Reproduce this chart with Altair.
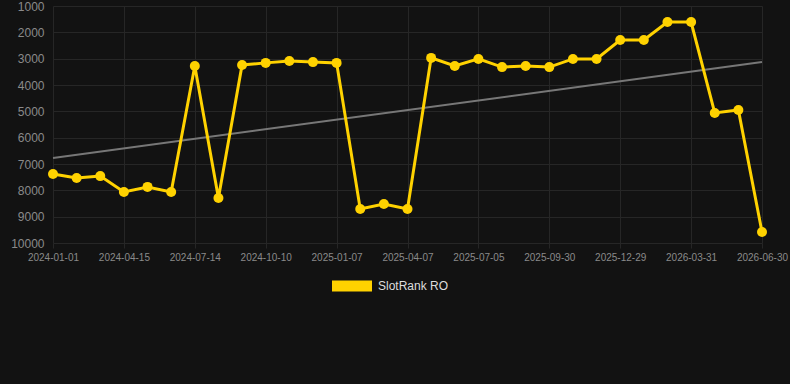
import altair as alt
import pandas as pd

dates = [
    "2024-01-01", "2024-02-05", "2024-03-11", "2024-04-15", "2024-05-15", "2024-06-14",
    "2024-07-14", "2024-08-12", "2024-09-11", "2024-10-10", "2024-11-09", "2024-12-09",
    "2025-01-07", "2025-02-06", "2025-03-08", "2025-04-07", "2025-05-07", "2025-06-05",
    "2025-07-05", "2025-08-03", "2025-09-01", "2025-09-30", "2025-10-30", "2025-11-29",
    "2025-12-29", "2026-01-29", "2026-02-28", "2026-03-31", "2026-04-30", "2026-05-31",
    "2026-06-30",
]
ranks = [
    7380, 7530, 7460, 8060, 7870, 8060,
    3280, 8290, 3240, 3160, 3090, 3130,
    3160, 8710, 8520, 8710, 2970, 3280,
    3010, 3320, 3280, 3320, 3010, 3010,
    2290, 2290, 1610, 1610, 5060, 4950,
    9580,
]
tick_labels = [
    "2024-01-01", "2024-04-15", "2024-07-14", "2024-10-10", "2025-01-07", "2025-04-07",
    "2025-07-05", "2025-09-30", "2025-12-29", "2026-03-31", "2026-06-30",
]
trend_dates = ["2024-01-01", "2026-06-30"]
trend_values = [6770, 3130]
y_ticks = [1000, 2000, 3000, 4000, 5000, 6000, 7000, 8000, 9000, 10000]
series_name = "SlotRank RO"

gold = "#FFD200"
grid = "#262626"
label_col = "#8a8a8a"

df = pd.DataFrame({"date": dates, "rank": ranks, "series": series_name})
tdf = pd.DataFrame({"date": trend_dates, "rank": trend_values})

x = alt.X(
    "date:O",
    sort=dates,
    scale=alt.Scale(domain=dates, padding=0),
    axis=alt.Axis(
        values=tick_labels, labelAngle=0, labelAlign="center", title=None, grid=True,
        gridColor=grid, domain=False, tickColor=grid, tickSize=5, labelColor=label_col,
        labelFontSize=10, labelPadding=4, labelFont="Arial", labelOverlap=False,
    ),
)
y = alt.Y(
    "rank:Q",
    scale=alt.Scale(domain=[1000, 10000], reverse=True, nice=False, zero=False),
    axis=alt.Axis(
        values=y_ticks, format="d", title=None, grid=True, gridColor=grid, domain=False,
        ticks=False, labelColor=label_col, labelFontSize=12, labelPadding=9,
        labelFont="Arial", labelOverlap=False,
    ),
)

trend = alt.Chart(tdf).mark_line(color="#777777", strokeWidth=2).encode(x=x, y=y)
line = alt.Chart(df).mark_line(color=gold, strokeWidth=3).encode(x=x, y=y)
points = alt.Chart(df).mark_point(filled=True, size=100, opacity=1).encode(
    x=x, y=y,
    color=alt.Color(
        "series:N",
        scale=alt.Scale(domain=[series_name], range=[gold]),
        legend=alt.Legend(
            title=None, orient="none", legendX=279, legendY=260,
            symbolType="M-1,-0.28L1,-0.28L1,0.28L-1,0.28Z", symbolSize=1600,
            symbolStrokeWidth=0, symbolOpacity=1, labelColor="#dddddd", labelFontSize=12,
            labelFont="Arial", labelOffset=6,
        ),
    ),
)

chart = (
    alt.layer(trend, line, points)
    .properties(
        width=709, height=237, background="#121212",
        padding={"left": 53, "top": 6, "right": 28, "bottom": 141},
        autosize=alt.AutoSizeParams(type="none"),
    )
    .configure_view(stroke=None)
)

chart.save("out.html", embed_options={"renderer": "svg", "actions": False})
